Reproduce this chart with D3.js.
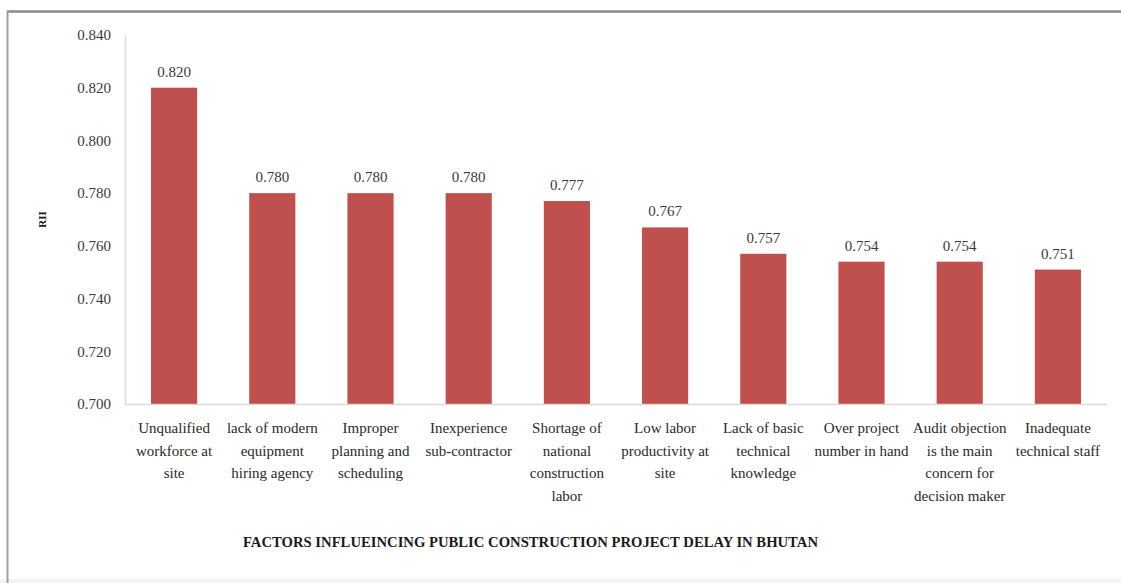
<!DOCTYPE html>
<html>
<head>
<meta charset="utf-8">
<script src="https://cdn.jsdelivr.net/npm/d3@7"></script>
<style>
  body { margin: 0; background: #fff; }
  svg { display: block; font-family: "Liberation Serif", "Times New Roman", serif; }
</style>
</head>
<body>
<div id="chart"></div>
<script>
// data
const categories = [
  "Unqualified workforce at site",
  "lack of modern equipment hiring agency",
  "Improper planning and scheduling",
  "Inexperience sub-contractor",
  "Shortage of national construction labor",
  "Low labor productivity at site",
  "Lack of basic technical knowledge",
  "Over project number in hand",
  "Audit objection is the main concern for decision maker",
  "Inadequate technical staff"
];
const rii = [0.820, 0.780, 0.780, 0.780, 0.777, 0.767, 0.757, 0.754, 0.754, 0.751];
// how Excel wrapped the category labels
const categoryLines = [
  ["Unqualified", "workforce at", "site"],
  ["lack of modern", "equipment", "hiring agency"],
  ["Improper", "planning and", "scheduling"],
  ["Inexperience", "sub-contractor"],
  ["Shortage of", "national", "construction", "labor"],
  ["Low labor", "productivity at", "site"],
  ["Lack of basic", "technical", "knowledge"],
  ["Over project", "number in hand"],
  ["Audit objection", "is the main", "concern for", "decision maker"],
  ["Inadequate", "technical staff"]
];
const yTicks = [0.700, 0.720, 0.740, 0.760, 0.780, 0.800, 0.820, 0.840];
const xTitle = "FACTORS INFLUEINCING PUBLIC CONSTRUCTION PROJECT DELAY IN BHUTAN";
const yTitle = "RII";

const W = 1121, H = 583;
const plot = { left: 125, right: 1107, top: 35, bottom: 404 };

const svg = d3.select("#chart").append("svg")
    .attr("width", W)
    .attr("height", H);

// frame (screenshot border)
svg.append("rect")
    .attr("x", 0).attr("y", 579).attr("width", W).attr("height", 4)
    .attr("fill", "#f2f2f2");
svg.append("line")
    .attr("x1", 7).attr("x2", W).attr("y1", 11.5).attr("y2", 11.5)
    .attr("stroke", "#8a8a8a").attr("stroke-width", 2.5);
svg.append("line")
    .attr("x1", 7.5).attr("x2", 7.5).attr("y1", 11).attr("y2", H)
    .attr("stroke", "#a0a0a0").attr("stroke-width", 2);

// scales
const x = d3.scaleBand()
    .domain(categories)
    .range([plot.left, plot.right])
    .paddingInner(0.53)
    .paddingOuter(0.265);
const y = d3.scaleLinear()
    .domain([0.70, 0.84])
    .range([plot.bottom, plot.top]);

// y axis
const yAxis = svg.append("g")
    .attr("transform", `translate(${plot.left},0)`)
    .call(d3.axisLeft(y).tickValues(yTicks).tickFormat(d3.format(".3f")).tickSize(0).tickPadding(14));
yAxis.select(".domain").attr("stroke", "#d9d9d9").attr("stroke-width", 1.5);
yAxis.selectAll("text")
    .style("font-family", "Liberation Serif, serif")
    .style("font-size", "15px")
    .attr("fill", "#3a3a3a");

// bars
svg.append("g")
    .selectAll("rect")
    .data(rii)
    .join("rect")
    .attr("x", (d, i) => x(categories[i]))
    .attr("y", d => y(d))
    .attr("width", x.bandwidth())
    .attr("height", d => y(0.70) - y(d))
    .attr("fill", "#c0504d");

// value labels
svg.append("g")
    .selectAll("text")
    .data(rii)
    .join("text")
    .attr("x", (d, i) => x(categories[i]) + x.bandwidth() / 2)
    .attr("y", d => y(d) - 11)
    .attr("text-anchor", "middle")
    .style("font-size", "15px")
    .attr("fill", "#3a3a3a")
    .text(d => d3.format(".3f")(d));

// x axis line
svg.append("line")
    .attr("x1", plot.left).attr("x2", plot.right)
    .attr("y1", plot.bottom + 0.5).attr("y2", plot.bottom + 0.5)
    .attr("stroke", "#d9d9d9").attr("stroke-width", 1.5);

// category labels
const catG = svg.append("g")
    .selectAll("text")
    .data(categories)
    .join("text")
    .attr("x", d => x(d) + x.bandwidth() / 2)
    .attr("y", 433)
    .attr("text-anchor", "middle")
    .style("font-size", "15px")
    .attr("fill", "#2a2a2a");
catG.each(function (d, i) {
    d3.select(this).selectAll("tspan")
        .data(categoryLines[i])
        .join("tspan")
        .attr("x", x(d) + x.bandwidth() / 2)
        .attr("dy", (l, j) => j === 0 ? 0 : 22.5)
        .text(l => l);
});

// axis titles
svg.append("text")
    .attr("x", 243)
    .attr("y", 547)
    .attr("textLength", 575)
    .attr("lengthAdjust", "spacingAndGlyphs")
    .style("font-size", "14px")
    .style("font-weight", "bold")
    .attr("fill", "#1a1a1a")
    .text(xTitle);

svg.append("text")
    .attr("transform", `translate(46,${(plot.top + plot.bottom) / 2}) rotate(-90)`)
    .attr("text-anchor", "middle")
    .style("font-size", "11px")
    .style("font-weight", "bold")
    .attr("fill", "#1a1a1a")
    .text(yTitle);
</script>
</body>
</html>
